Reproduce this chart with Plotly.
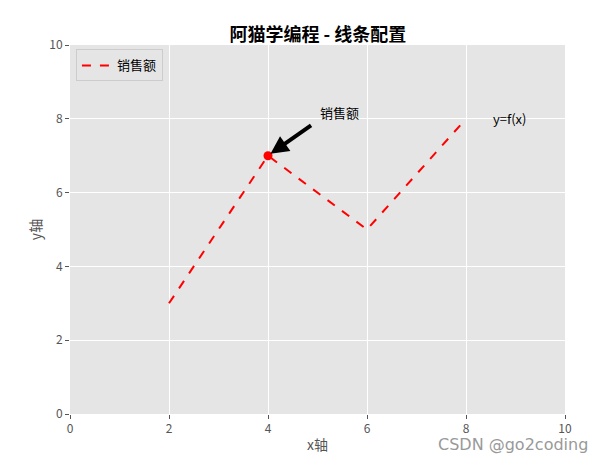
import plotly.graph_objects as go

x_vals = [2, 4, 6, 8]
y_vals = [3, 7, 5, 8]
mark_x = [4]
mark_y = [7]

font = "Noto Sans CJK SC"

fig = go.Figure()
fig.add_trace(go.Scatter(x=x_vals, y=y_vals, mode="lines", name="销售额",
                         line=dict(color="red", dash="dash", width=2)))
fig.add_trace(go.Scatter(x=mark_x, y=mark_y, mode="markers", showlegend=False,
                         marker=dict(color="red", size=9)))

# arrow
fig.add_annotation(x=4.05, y=7.05, ax=4.9, ay=7.85, axref="x", ayref="y",
                   xref="x", yref="y", text="", showarrow=True,
                   arrowhead=2, arrowsize=0.9, arrowwidth=4, arrowcolor="black")
fig.add_annotation(x=5.0, y=7.85, xref="x", yref="y", text="销售额", showarrow=False,
                   xanchor="left", yanchor="bottom", font=dict(size=13, color="black"))
fig.add_annotation(x=8.5, y=8.0, xref="x", yref="y", text="y=f(x)", showarrow=False,
                   xanchor="left", yanchor="middle", font=dict(size=13, color="black"))
fig.add_annotation(x=1.0, y=0, xref="paper", yref="paper", yshift=-42, xshift=25,
                   text="CSDN @go2coding", showarrow=False, xanchor="right",
                   yanchor="bottom",
                   font=dict(size=16, color="#999999", family="DejaVu Sans"))

axis = dict(range=[0, 10], dtick=2, showgrid=True, gridcolor="white", gridwidth=1,
            zeroline=False, ticks="outside", tickcolor="#555", ticklen=4,
            tickfont=dict(size=12, color="#555"), showline=False, automargin=False)

fig.update_layout(
    width=596, height=456,
    margin=dict(l=62, r=39, t=37, b=50, autoexpand=False),
    plot_bgcolor="#E5E5E5", paper_bgcolor="white",
    font=dict(family=font, color="#555"),
    title=dict(text="<b>阿猫学编程 - 线条配置</b>", x=0.52, xanchor="center", y=0.955,
               font=dict(size=18, color="black")),
    xaxis=dict(axis, title=dict(text="x轴", font=dict(size=14, color="#555"), standoff=4)),
    yaxis=dict(axis, title=dict(text="y轴", font=dict(size=14, color="#555"), standoff=4)),
    legend=dict(x=0.012, y=0.988, xanchor="left", yanchor="top",
                bgcolor="#E5E5E5", bordercolor="#cccccc", borderwidth=1,
                font=dict(size=13, color="black")),
)

fig.write_html("out.html")
